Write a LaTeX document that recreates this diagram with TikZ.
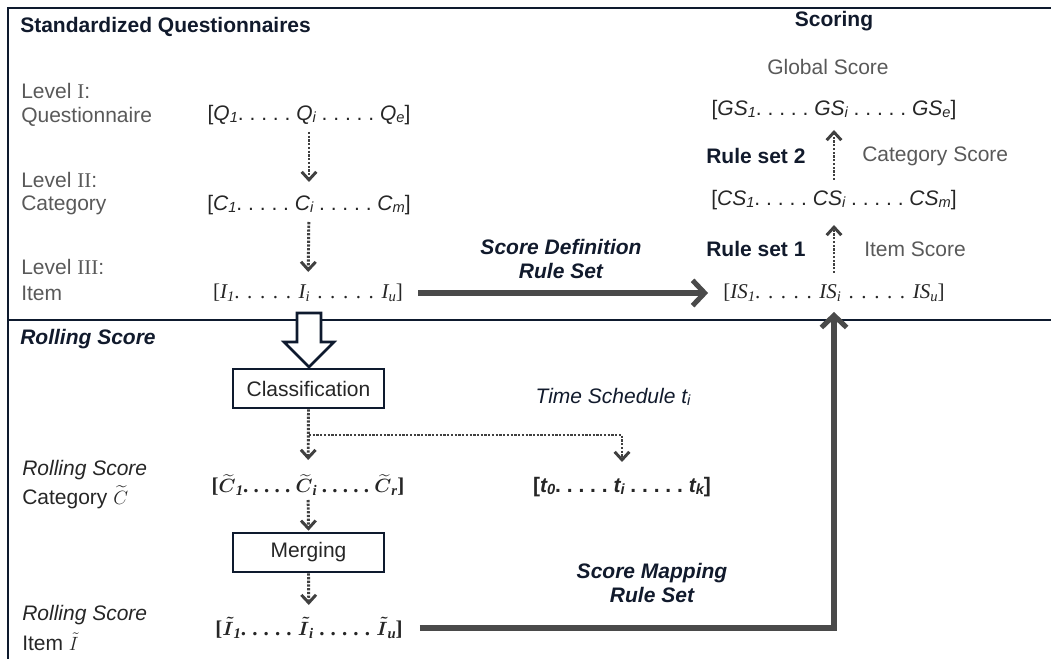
\documentclass[tikz,border=0pt]{standalone}
\usepackage{amsmath}
\usepackage{fontspec}
\setmainfont{Liberation Sans}
\newfontfamily\serifrm{Liberation Serif}
\usetikzlibrary{arrows.meta}
\definecolor{framenavy}{HTML}{0E1A2E}
\definecolor{headink}{HTML}{111A2C}
\definecolor{labelgray}{HTML}{595959}
\definecolor{listink}{HTML}{262626}
\definecolor{arrowgray}{HTML}{4A4A4A}
\definecolor{dotgray}{HTML}{404040}
% small index set on (almost) the baseline
\newcommand\lsub[1]{\raisebox{-0.12em}{\fontsize{11pt}{12pt}\selectfont #1}}
\newcommand\dotrun{.\ .\ .\ .\ .}
% serif lists get a wider interword space
\newcommand\wideserif{\serifrm\spaceskip=5.7pt plus 0pt minus 0pt\relax}

\begin{document}
\begin{tikzpicture}[x=0.75pt,y=-0.75pt,
  every node/.style={inner sep=0pt, font=\fontsize{15.75pt}{18pt}\selectfont},
  head/.style={font=\fontsize{15.75pt}{18pt}\selectfont\bfseries, text=headink},
  headit/.style={font=\fontsize{15.75pt}{18pt}\selectfont\bfseries\itshape, text=headink},
  lbl/.style={text=labelgray, anchor=west},
  lblit/.style={text=listink, anchor=west, font=\fontsize{15.75pt}{18pt}\selectfont\itshape},
  seqlist/.style={text=listink},
  rulelbl/.style={font=\fontsize{15.75pt}{18pt}\selectfont\bfseries\itshape, text=headink, align=center},
  framerule/.style={draw=framenavy, line width=2.2pt},
  stepbox/.style={draw=framenavy, line width=1.9pt, fill=white, text=listink,
    minimum width=113.25pt, minimum height=29.25pt},
  dotarrow/.style={draw=dotgray, line width=2.2pt, dash pattern=on 1.7pt off 1.1pt,
    -{Straight Barb[length=6pt,width=11pt]}},
  bigarrow/.style={draw=arrowgray, line width=3.8pt,
    -{Straight Barb[length=9pt,width=19pt]}}
]
\useasboundingbox (0,0) rectangle (1051,659);

% frame
\draw[framerule] (8,659) -- (8,8) -- (1051,8);
\draw[framerule] (8,320) -- (1051,320);

% ---------- Standardized questionnaires ----------
\node[head, anchor=west] (sqhead) at (20,27) {Standardized Questionnaires};

\node[lbl] (l1a) at (21,91) {Level {\serifrm I}:};
\node[lbl] (l1b) at (21,117) {Questionnaire};
\node[lbl] (l2a) at (21,180) {Level {\serifrm II}:};
\node[lbl] (l2b) at (21,205) {Category};
\node[lbl] (l3a) at (21,267) {Level {\serifrm III}:};
\node[lbl] (l3b) at (21,293) {Item};

\node[seqlist] (q) at (309,115)
  {[\textit{Q\lsub{1}}\dotrun\ \textit{Q\lsub{i}}\ \dotrun\ \textit{Q\lsub{e}}]};
\node[seqlist] (c) at (309,205)
  {[\textit{C\lsub{1}}\dotrun\ \textit{C\lsub{i}}\ \dotrun\ \textit{C\lsub{m}}]};
\node[seqlist] (i) at (308,293)
  {\wideserif[\textit{I\lsub{1}}\dotrun\ \textit{I\lsub{i}}\ \dotrun\ \textit{I\lsub{u}}]};

\draw[dotarrow, shorten <=12.75pt, shorten >=17.25pt] (q.center) -- (c.center);
\draw[dotarrow, shorten <=12.75pt, shorten >=15.75pt] (c.center) -- (i.center);

% ---------- Scoring ----------
\node[head] (schead) at (834,21) {Scoring};
\node[text=labelgray] (glob) at (828,67) {Global Score};

\node[seqlist] (gs) at (834,110)
  {[\textit{GS\lsub{1}}\dotrun\ \textit{GS\lsub{i}}\ \dotrun\ \textit{GS\lsub{e}}]};
\node[seqlist] (cs) at (834,200)
  {[\textit{CS\lsub{1}}\dotrun\ \textit{CS\lsub{i}}\ \dotrun\ \textit{CS\lsub{m}}]};
\node[seqlist] (is) at (834,293)
  {\wideserif[\textit{IS\lsub{1}}\dotrun\ \textit{IS\lsub{i}}\ \dotrun\ \textit{IS\lsub{u}}]};

\node[head, anchor=west] (rs2) at (706,156) {Rule set 2};
\node[lbl] (catsc) at (862,156) {Category Score};
\node[head, anchor=west] (rs1) at (706,249) {Rule set 1};
\node[lbl] (itemsc) at (864,249) {Item Score};

\draw[dotarrow, shorten <=15pt, shorten >=18.75pt] (is.center) -- (cs.center);
\draw[dotarrow, shorten <=15pt, shorten >=15pt] (cs.center) -- (gs.center);

% score definition
\draw[bigarrow, shorten <=11.25pt, shorten >=11.25pt] (i.east) -- (is.west);
\node[rulelbl] (sdef) at (561,258.5) {Score Definition\\Rule Set};

% ---------- Rolling score ----------
\node[headit, anchor=west] (rshead) at (20,339) {Rolling Score};

\filldraw[draw=framenavy, fill=white, line width=1.9pt]
  (297,313) -- (321,313) -- (321,342) -- (334,342) -- (309,367)
  -- (284,342) -- (297,342) -- cycle;

\node[stepbox] (class) at (308.5,388.5) {Classification};
\node[stepbox] (merge) at (308.5,552.5) {Merging};

\node[lblit] (rc1) at (22,470) {Rolling Score};
\node[lbl, text=listink] (rc2) at (22,497) {Category $\widetilde{C}$};
\node[lblit] (ri1) at (22,615) {Rolling Score};
\node[lbl, text=listink] (ri2) at (22,642) {Item $\tilde{I}$};

\node[seqlist] (ctl) at (308,485)
  {\serifrm\bfseries[$\boldsymbol{\widetilde{C}}$\lsub{\textit{1}}\dotrun\
   $\boldsymbol{\widetilde{C}}$\lsub{\textit{i}}\ \dotrun\
   $\boldsymbol{\widetilde{C}}$\lsub{\textit{r}}]};
\node[seqlist] (til) at (309,628)
  {\serifrm\bfseries\spaceskip=4.6pt\relax[$\boldsymbol{\tilde{I}}$\lsub{\textit{1}}\dotrun\
   $\boldsymbol{\tilde{I}}$\lsub{\textit{i}}\ \dotrun\
   $\boldsymbol{\tilde{I}}$\lsub{\textit{u}}]};

\node[text=headink, font=\fontsize{15.75pt}{18pt}\selectfont\itshape] (tsched) at (613,397)
  {Time Schedule t\lsub{i}};
\node[seqlist] (tl) at (622,487)
  {\bfseries[\textit{t\lsub{0}}\dotrun\ \textit{t\lsub{i}}\ \dotrun\ \textit{t\lsub{k}}]};

\coordinate (branch) at (309,435);
\draw[dotarrow, shorten >=18.75pt] (class.south) -- (ctl.center);
\draw[dotarrow, shorten >=18.75pt] (branch) -| (tl.center);
\draw[dotarrow, shorten <=11.25pt, shorten >=0.75pt] (ctl.center) -- (merge.north);
\draw[dotarrow, shorten >=17.25pt] (merge.south) -- (til.center);

% score mapping
\draw[bigarrow, shorten <=12.75pt, shorten >=14.25pt] (til.east) -| (is.center);
\node[rulelbl] (smap) at (652,582.5) {Score Mapping\\Rule Set};
\end{tikzpicture}
\end{document}
